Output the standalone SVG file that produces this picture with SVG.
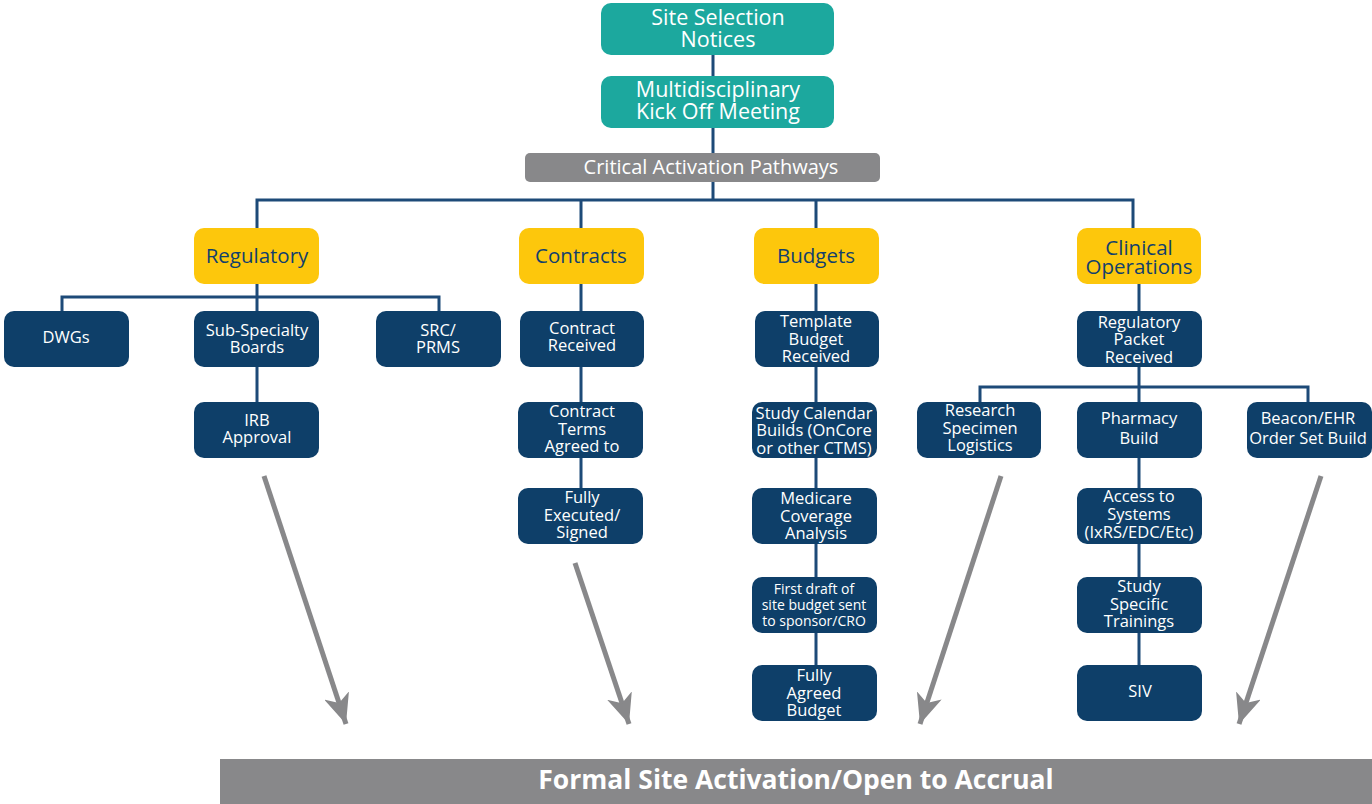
<svg xmlns="http://www.w3.org/2000/svg" width="1372" height="804" viewBox="0 0 1372 804">
<defs>
<style>
.teal{fill:#1ca89e}
.gray{fill:#88888a}
.yel{fill:#fdc70c}
.dk{fill:#0e3f69}
text{font-family:"Open Sans","Noto Sans","Liberation Sans",sans-serif;text-anchor:middle}
.tw{fill:#ffffff;font-size:21.5px}
.ty{fill:#123f6c;font-size:20.5px}
.td{fill:#ffffff;font-size:16.5px}
.ts{fill:#ffffff;font-size:14px}
.conn{stroke:#1d4a78;stroke-width:3;fill:none}
.arr{stroke:#88888a;stroke-width:5;fill:none}
</style>
<marker id="ah" markerUnits="userSpaceOnUse" markerWidth="32" markerHeight="26" refX="30" refY="13" orient="auto">
<path d="M30,13 L0,0 L8,13 L0,26 Z" fill="#88888a"/>
</marker>
</defs>
<g id="connectors">
<path class="conn" d="M713,55V76M713,128V153M713,182V200M257,229V200H1133V229M581,200V229M816,200V229"/>
<path class="conn" d="M257,284V311M62,311V297H439V311M257,367V402"/>
<path class="conn" d="M581,284V311M581,367V402M581,458V488"/>
<path class="conn" d="M816,284V311M816,367V402M816,458V488M816,544V577M816,633V665"/>
<path class="conn" d="M1139,284V311M1139,367V402M980,402V387H1308V402M1139,458V488M1139,544V577M1139,633V665"/>
<line class="arr" x1="264" y1="476" x2="346" y2="724" marker-end="url(#ah)"/>
<line class="arr" x1="575" y1="563" x2="629" y2="724" marker-end="url(#ah)"/>
<line class="arr" x1="1001" y1="476" x2="920" y2="724" marker-end="url(#ah)"/>
<line class="arr" x1="1321" y1="476" x2="1239" y2="724" marker-end="url(#ah)"/>
</g>
<g id="site-selection"><rect class="teal" x="601" y="3" width="233" height="52" rx="10"/><text class="tw" x="718" y="25">Site Selection<tspan x="718" dy="22">Notices</tspan></text></g>
<g id="kickoff"><rect class="teal" x="601" y="76" width="233" height="52" rx="10"/><text class="tw" x="718" y="97">Multidisciplinary<tspan x="718" dy="22">Kick Off Meeting</tspan></text></g>
<g id="critical"><rect class="gray" x="525" y="153" width="355" height="29" rx="5"/><text class="tw" x="711" y="174" style="font-size:20px">Critical Activation Pathways</text></g>
<g id="regulatory"><rect class="yel" x="194" y="228" width="125" height="56" rx="10"/><text class="ty" x="257" y="263">Regulatory</text></g>
<g id="contracts"><rect class="yel" x="519" y="228" width="125" height="56" rx="10"/><text class="ty" x="581" y="263">Contracts</text></g>
<g id="budgets"><rect class="yel" x="754" y="228" width="125" height="56" rx="10"/><text class="ty" x="816" y="263">Budgets</text></g>
<g id="clinical-ops"><rect class="yel" x="1077" y="228" width="124" height="56" rx="10"/><text class="ty" x="1139" y="255">Clinical<tspan x="1139" dy="19">Operations</tspan></text></g>
<g id="dwgs"><rect class="dk" x="4" y="311" width="125" height="56" rx="10"/><text class="td" x="66" y="343">DWGs</text></g>
<g id="subspecialty"><rect class="dk" x="194" y="311" width="125" height="56" rx="10"/><text class="td" x="257" y="336">Sub-Specialty<tspan x="257" dy="17">Boards</tspan></text></g>
<g id="src-prms"><rect class="dk" x="376" y="311" width="125" height="56" rx="10"/><text class="td" x="438" y="336">SRC/<tspan x="438" dy="17">PRMS</tspan></text></g>
<g id="irb"><rect class="dk" x="194" y="402" width="125" height="56" rx="10"/><text class="td" x="257" y="426">IRB<tspan x="257" dy="17">Approval</tspan></text></g>
<g id="contract-received"><rect class="dk" x="520" y="311" width="124" height="56" rx="10"/><text class="td" x="582" y="334">Contract<tspan x="582" dy="17">Received</tspan></text></g>
<g id="contract-terms"><rect class="dk" x="518" y="402" width="125" height="56" rx="10"/><text class="td" x="582" y="417">Contract<tspan x="582" dy="17.5">Terms</tspan><tspan x="582" dy="17.5">Agreed to</tspan></text></g>
<g id="fully-executed"><rect class="dk" x="518" y="488" width="125" height="56" rx="10"/><text class="td" x="582" y="503">Fully<tspan x="582" dy="17.5">Executed/</tspan><tspan x="582" dy="17.5">Signed</tspan></text></g>
<g id="template-budget"><rect class="dk" x="755" y="311" width="124" height="56" rx="10"/><text class="td" x="816" y="327">Template<tspan x="816" dy="17.5">Budget</tspan><tspan x="816" dy="17.5">Received</tspan></text></g>
<g id="study-calendar"><rect class="dk" x="752" y="402" width="125" height="56" rx="10"/><text class="td" x="814" y="419">Study Calendar<tspan x="814" dy="17">Builds (OnCore</tspan><tspan x="814" dy="17.5">or other CTMS)</tspan></text></g>
<g id="medicare"><rect class="dk" x="752" y="488" width="125" height="56" rx="10"/><text class="td" x="816" y="504">Medicare<tspan x="816" dy="17.5">Coverage</tspan><tspan x="816" dy="17">Analysis</tspan></text></g>
<g id="first-draft"><rect class="dk" x="752" y="577" width="125" height="56" rx="10"/><text class="ts" x="814" y="594">First draft of<tspan x="814" dy="16">site budget sent</tspan><tspan x="814" dy="16">to sponsor/CRO</tspan></text></g>
<g id="fully-agreed"><rect class="dk" x="752" y="665" width="125" height="56" rx="10"/><text class="td" x="814" y="681">Fully<tspan x="814" dy="17.5">Agreed</tspan><tspan x="814" dy="17.5">Budget</tspan></text></g>
<g id="regulatory-packet"><rect class="dk" x="1077" y="311" width="125" height="56" rx="10"/><text class="td" x="1139" y="328">Regulatory<tspan x="1139" dy="17">Packet</tspan><tspan x="1139" dy="17.5">Received</tspan></text></g>
<g id="research-specimen"><rect class="dk" x="917" y="402" width="124" height="56" rx="10"/><text class="td" x="980" y="416">Research<tspan x="980" dy="17.5">Specimen</tspan><tspan x="980" dy="17.5">Logistics</tspan></text></g>
<g id="pharmacy"><rect class="dk" x="1077" y="402" width="125" height="56" rx="10"/><text class="td" x="1139" y="424">Pharmacy<tspan x="1139" dy="20">Build</tspan></text></g>
<g id="beacon"><rect class="dk" x="1247" y="402" width="125" height="56" rx="10"/><text class="td" x="1308" y="424">Beacon/EHR<tspan x="1308" dy="20">Order Set Build</tspan></text></g>
<g id="access-systems"><rect class="dk" x="1077" y="488" width="125" height="56" rx="10"/><text class="td" x="1139" y="502">Access to<tspan x="1139" dy="18">Systems</tspan><tspan x="1139" dy="18">(IxRS/EDC/Etc)</tspan></text></g>
<g id="study-trainings"><rect class="dk" x="1077" y="577" width="125" height="56" rx="10"/><text class="td" x="1139" y="592">Study<tspan x="1139" dy="17.5">Specific</tspan><tspan x="1139" dy="17.5">Trainings</tspan></text></g>
<g id="siv"><rect class="dk" x="1077" y="665" width="125" height="56" rx="10"/><text class="td" x="1140" y="697">SIV</text></g>
<g id="formal-activation"><rect class="gray" x="220" y="759" width="1152" height="45"/><text x="796" y="789" style="fill:#ffffff;font-size:26.5px;font-weight:bold">Formal Site Activation/Open to Accrual</text></g>
</svg>
